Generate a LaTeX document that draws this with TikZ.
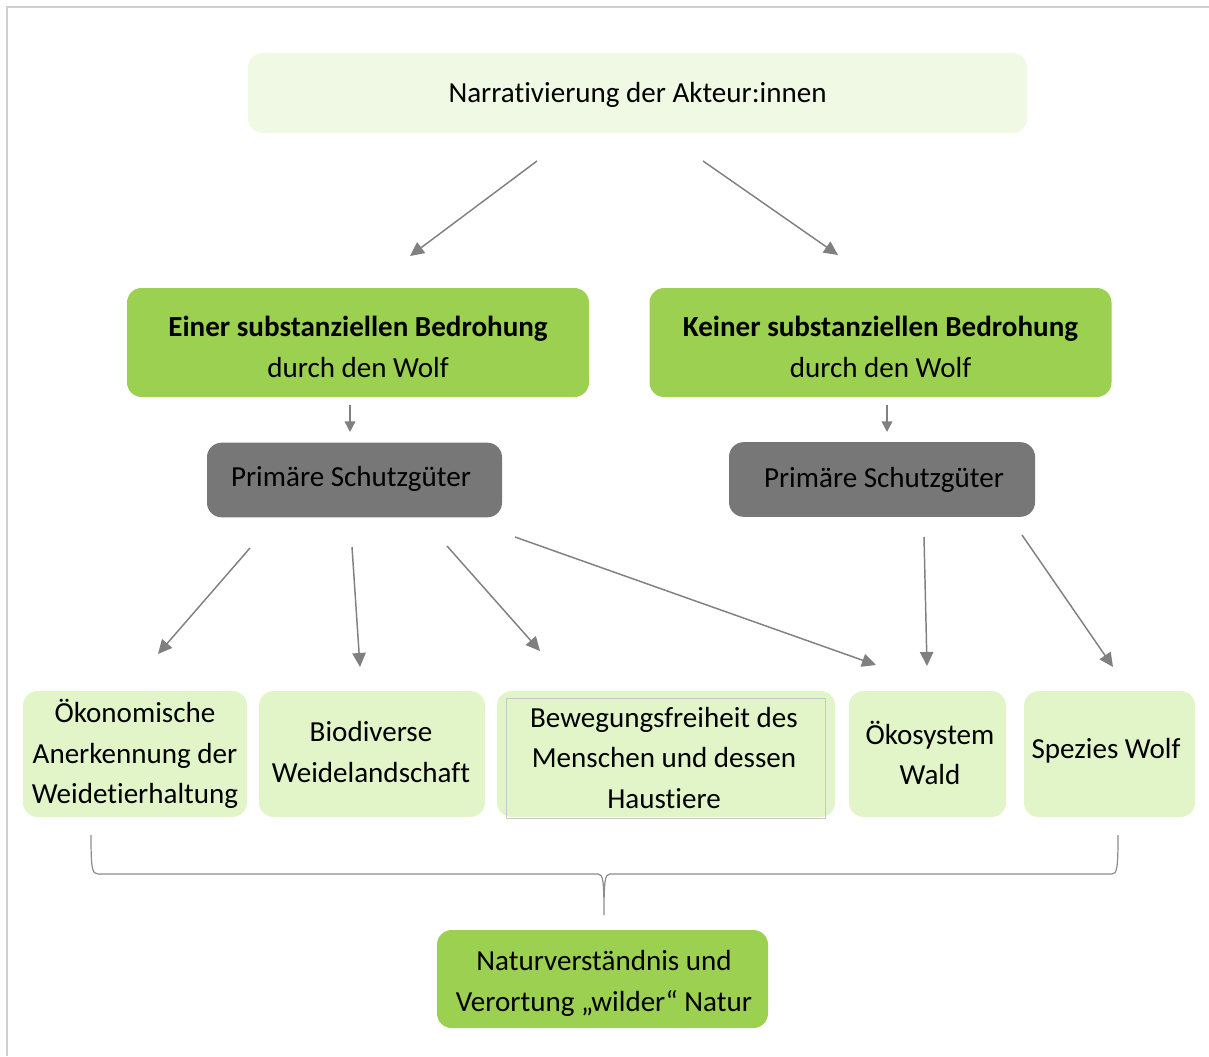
\documentclass[tikz,border=0pt]{standalone}
\usepackage{fontspec}
\setmainfont[Ligatures={NoCommon}]{Carlito}
\usetikzlibrary{arrows.meta}

\definecolor{paleGreen}{RGB}{240,249,227}
\definecolor{leafGreen}{RGB}{155,208,80}
\definecolor{softGreen}{RGB}{226,245,201}
\definecolor{boxGray}{RGB}{119,119,119}
\definecolor{arrowGray}{RGB}{128,128,128}
\definecolor{frameGray}{RGB}{208,208,208}

\tikzset{
every picture/.style={line width=0.75pt},
box text/.style={inner sep=0pt, align=center, font=\fontsize{21.8}{30.5}\selectfont},
box base/.style={box text, rounded corners=11pt},
toplevel/.style={box base, fill=paleGreen, minimum width=584.25pt, minimum height=60pt},
threatbox/.style={box base, fill=leafGreen, minimum width=346.5pt, minimum height=81.75pt},
goodsbox/.style={box base, fill=boxGray, minimum height=56pt},
leafbox/.style={box base, fill=softGreen, minimum height=94.5pt},
sumbox/.style={box base, fill=leafGreen, minimum width=248.25pt, minimum height=73.5pt},
flow/.style={draw=arrowGray, line width=1.1pt, -{Triangle[length=10.5pt,width=10pt]}},
smallflow/.style={draw=arrowGray, line width=1.1pt, -{Triangle[length=8pt,width=8pt]}}}

\begin{document}
\begin{tikzpicture}[x=0.75pt,y=0.75pt,yscale=-1,xscale=1]
\useasboundingbox (0,0) rectangle (1209,1056);

%Frame
\draw [color=frameGray, line width=1.5pt] (7,1056) -- (7,7) -- (1209,7) ;

% Text Node
\node [toplevel] (akteure) at (637.5,93) {};
\node [box text] (akteuretext) at (637.5,94.5) {Narrativierung der Akteur:innen};
% Text Node
\node [threatbox] (einer) at (358,342.5) {};
\node [box text] (einertext) at (358,347) {\textbf{Einer substanziellen Bedrohung}\\durch den Wolf};
% Text Node
\node [threatbox] (keiner) at (880.5,342.5) {};
\node [box text] (keinertext) at (880.5,347) {\textbf{Keiner substanziellen Bedrohung}\\durch den Wolf};
% Text Node
\node [goodsbox, minimum width=221.25pt] (schutzL) at (354.5,480) {};
\node [box text] (schutzLtext) at (351,478.5) {Primäre Schutzgüter};
% Text Node
\node [goodsbox, minimum width=229.5pt] (schutzR) at (882,479.5) {};
\node [box text] (schutzRtext) at (884,479.5) {Primäre Schutzgüter};

% Text Node
\node [leafbox, minimum width=168pt] (oeko) at (135,754) {Ökonomische\\Anerkennung der\\Weidetierhaltung};
% Text Node
\node [leafbox, minimum width=169.5pt] (bio) at (372,754) {};
\node [box text] (biotext) at (371,752) {Biodiverse\\Weidelandschaft};
% Text Node
\node [leafbox, minimum width=253.5pt] (beweg) at (666,754) {};
\draw [color={rgb, 255:red, 200; green, 200; blue, 200 }, line width=0.6pt] (506,698) rectangle (825,818) ;
\node [box text] (bewegtext) at (664,758) {Bewegungsfreiheit des\\Menschen und dessen\\Haustiere};
% Text Node
\node [leafbox, minimum width=117.75pt] (wald) at (927.5,754) {};
\node [box text] (waldtext) at (930,753) {Ökosystem\\Wald};
% Text Node
\node [leafbox, minimum width=128.25pt] (wolf) at (1109.5,754) {};
\node [box text] (wolftext) at (1106,751) {Spezies Wolf};

% Text Node
\node [sumbox] (natur) at (602.5,979) {};
\node [box text] (naturtext) at (604,983.5) {Naturverständnis und\\Verortung „wilder“ Natur};

%Arrow ends
\coordinate (t1) at (537,161) ; \coordinate (h1) at (410,256) ;
\coordinate (t2) at (703,161) ; \coordinate (h2) at (838,255) ;
\coordinate (t3) at (350,405) ; \coordinate (h3) at (350,432) ;
\coordinate (t4) at (887,405) ; \coordinate (h4) at (887,432) ;
\coordinate (t5) at (250,548) ; \coordinate (h5) at (158,654) ;
\coordinate (t6) at (352,547) ; \coordinate (h6) at (360,667) ;
\coordinate (t7) at (447,546) ; \coordinate (h7) at (540,651) ;
\coordinate (t8) at (515,537) ; \coordinate (h8) at (876,665) ;
\coordinate (t9) at (924,537) ; \coordinate (h9) at (927,666) ;
\coordinate (t10) at (1022,535) ; \coordinate (h10) at (1113,667) ;

%Straight Lines
\draw [flow] (t1) -- (h1) ;
\draw [flow] (t2) -- (h2) ;
\draw [smallflow] (t3) -- (h3) ;
\draw [smallflow] (t4) -- (h4) ;
\draw [flow] (t5) -- (h5) ;
\draw [flow] (t6) -- (h6) ;
\draw [flow] (t7) -- (h7) ;
\draw [flow] (t8) -- (h8) ;
\draw [flow] (t9) -- (h9) ;
\draw [flow] (t10) -- (h10) ;

%Shape: Brace
\draw [color={rgb, 255:red, 140; green, 140; blue, 140 }, line width=0.9pt] (91,835) .. controls (91,868) and (92,874) .. (98,874) -- (598,874) .. controls (603,874) and (604,880) .. (604,915) .. controls (604,880) and (605,874) .. (610,874) -- (1112,874) .. controls (1117,874) and (1118,868) .. (1118,835) ;

\end{tikzpicture}
\end{document}
